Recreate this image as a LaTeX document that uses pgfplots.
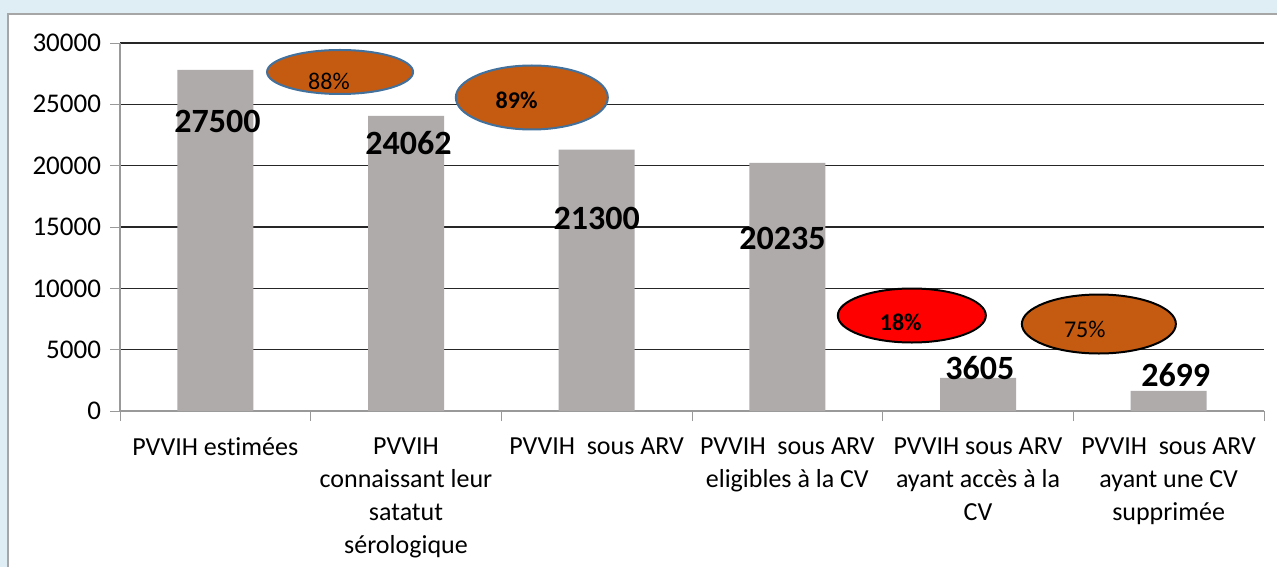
\documentclass[border=0pt]{standalone}
\usepackage{pgfplots}
\pgfplotsset{compat=1.18}
\usepackage{fontspec}
\setmainfont{Carlito}[Ligatures=NoCommon]
\definecolor{bargray}{RGB}{175,171,171}
\definecolor{rust}{RGB}{197,90,17}
\definecolor{edgeblue}{RGB}{65,113,156}
\definecolor{bgblue}{RGB}{222,238,244}
\begin{document}
\begin{tikzpicture}
    % page frame: 1px = 0.5pt
    \path[use as bounding box] (0,0) rectangle (638.5pt,283.5pt);
    \fill[bgblue] (0,0) rectangle (638.5pt,283.5pt);
    \fill[white] (4pt,0) rectangle (638.5pt,276.5pt);
    \draw[gray!70, line width=0.8pt] (4pt,0) -- (4pt,276.5pt) -- (638.5pt,276.5pt);

    \begin{axis}[
        at={(60pt,78pt)},
        anchor=south west,
        scale only axis,
        width=572pt,
        height=184pt,
        xmin=-0.5, xmax=5.5,
        ymin=0, ymax=30000,
        ytick={0,5000,...,30000},
        scaled y ticks=false,
        xtick={0,...,5},
        xticklabels={
            PVVIH estimées,
            PVVIH\\connaissant leur\\satatut\\sérologique,
            PVVIH\ \ sous ARV,
            PVVIH\ \ sous ARV\\eligibles à la CV,
            PVVIH sous ARV\\ayant accès à la\\CV,
            PVVIH\ \ sous ARV\\ayant une CV\\supprimée},
        minor xtick={-0.5,0.5,...,5.5},
        major x tick style={draw=none},
        minor x tick style={draw=gray!80},
        minor tick length=5pt,
        major tick length=5pt,
        tick align=outside,
        y tick style={draw=gray!80},
        axis x line*=bottom,
        axis y line*=left,
        axis line style={draw=gray!80, line width=0.6pt, -},
        ymajorgrids,
        grid style={draw=black!85, line width=0.7pt},
        /pgf/number format/.cd, 1000 sep={}, assume math mode=true,
        /pgfplots/.cd,
        tick label style={font=\fontsize{13}{16.5}\selectfont},
        xticklabel style={align=center, yshift=-5pt},
        yticklabel style={xshift=-1pt, font=\fontsize{13.5}{16}\selectfont},
    ]
        % bar heights as drawn in the picture
        \addplot[ybar, bar width=38pt, fill=bargray, draw=none] coordinates {
            (0, 27800)
            (1, 24050)
            (2, 21300)
            (3, 20220)
            (4, 2700)
            (5, 1650)
        };

        % value labels
        \node[font=\bfseries\fontsize{17}{20}\selectfont] at (axis cs:0.011,23640) {27500};
        \node[font=\bfseries\fontsize{17}{20}\selectfont] at (axis cs:1.013,21850) {24062};
        \node[font=\bfseries\fontsize{17}{20}\selectfont] at (axis cs:2.0,15733) {21300};
        \node[font=\bfseries\fontsize{17}{20}\selectfont] at (axis cs:2.974,14103) {20235};
        \node[font=\bfseries\fontsize{17}{20}\selectfont] at (axis cs:4.01,3505) {3605};
        \node[font=\bfseries\fontsize{17}{20}\selectfont] at (axis cs:5.037,2935) {2699};

        % ratio ellipses
        \draw[fill=rust, draw=edgeblue, line width=1pt] (axis cs:0.654,27636) ellipse [x radius=36.5pt, y radius=11pt];
        \begin{scope}
            \clip (axis cs:-0.5,26250) rectangle (axis cs:1.5,30000);
            \node[font=\fontsize{12}{14}\selectfont] at (axis cs:0.596,26900) {88\%};
        \end{scope}
        \draw[fill=rust, draw=edgeblue, line width=1pt] (axis cs:1.66,25557) ellipse [x radius=38pt, y radius=16pt];
        \node[font=\bfseries\fontsize{12}{14}\selectfont] at (axis cs:1.58,25353) {89\%};
        \draw[fill=red, draw=black, line width=1pt] (axis cs:3.653,7785) ellipse [x radius=37pt, y radius=13.5pt];
        \node[font=\bfseries\fontsize{12}{14}\selectfont] at (axis cs:3.595,7255) {18\%};
        \draw[fill=rust, draw=black, line width=1pt] (axis cs:4.634,7092) ellipse [x radius=38.5pt, y radius=14.75pt];
        \node[font=\fontsize{12}{14}\selectfont] at (axis cs:4.56,6685) {75\%};
    \end{axis}
\end{tikzpicture}
\end{document}
